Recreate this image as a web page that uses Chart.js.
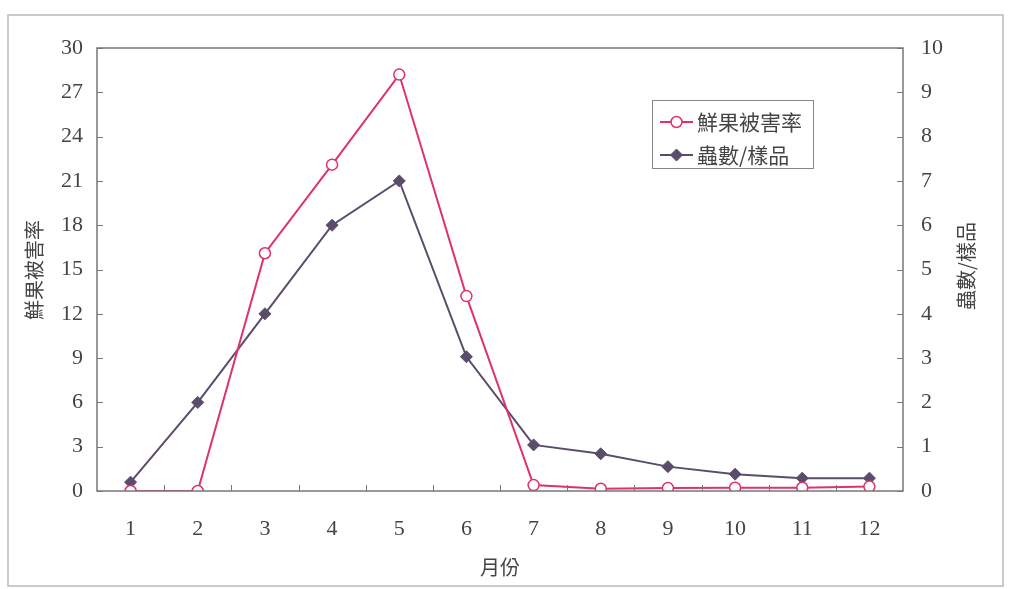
<!DOCTYPE html>
<html>
<head>
<meta charset="utf-8">
<script src="https://cdn.jsdelivr.net/npm/chart.js@4.4.0/dist/chart.umd.min.js"></script>
<style>
  html, body { margin: 0; padding: 0; background: #fff; }
  #wrap { width: 1009px; height: 589px; }
</style>
</head>
<body>
<div id="wrap"><canvas id="myChart" width="1009" height="589"></canvas></div>
<script>
const months = ['1', '2', '3', '4', '5', '6', '7', '8', '9', '10', '11', '12'];
const damageRate = [0, 0, 16.1, 22.1, 28.2, 13.2, 0.4, 0.15, 0.2, 0.22, 0.22, 0.3];
const insectsPerSample = [0.2, 2.0, 4.0, 6.0, 7.0, 3.03, 1.04, 0.84, 0.55, 0.38, 0.29, 0.29];
const leftTicks = [0, 3, 6, 9, 12, 15, 18, 21, 24, 27, 30];
const rightTicks = [0, 1, 2, 3, 4, 5, 6, 7, 8, 9, 10];

const xTitle = '月份';
const leftTitle = '鮮果被害率';
const rightTitle = '蟲數/樣品';

const pink = '#e0306e';
const purple = '#5b4c6b';
const axisColor = '#777';
const textColor = '#444';
const serif = '"Liberation Serif", "DejaVu Serif", serif';
const cjk = '"Noto Sans CJK TC", "Noto Sans CJK SC", sans-serif';

// box, inward ticks, titles and legend
const decor = {
  id: 'decor',
  beforeDraw(chart) {
    const ctx = chart.ctx;
    ctx.save();
    ctx.strokeStyle = '#bbb';
    ctx.lineWidth = 1.5;
    ctx.strokeRect(8, 15, 995, 571);
    ctx.restore();
  },
  afterDraw(chart) {
    const ctx = chart.ctx;
    const a = chart.chartArea;
    const xs = chart.scales.x, yl = chart.scales.y, yr = chart.scales.y1;
    ctx.save();
    ctx.strokeStyle = axisColor;
    ctx.lineWidth = 1.5;
    ctx.strokeRect(a.left, a.top, a.right - a.left, a.bottom - a.top);

    ctx.lineWidth = 1;
    ctx.beginPath();
    leftTicks.forEach(v => {
      const y = Math.round(yl.getPixelForValue(v)) + 0.5;
      ctx.moveTo(a.left, y); ctx.lineTo(a.left + 6, y);
    });
    rightTicks.forEach(v => {
      const y = Math.round(yr.getPixelForValue(v)) + 0.5;
      ctx.moveTo(a.right, y); ctx.lineTo(a.right - 6, y);
    });
    for (let i = 0; i < months.length - 1; i++) {
      const x = Math.round((xs.getPixelForValue(i) + xs.getPixelForValue(i + 1)) / 2) + 0.5;
      ctx.moveTo(x, a.bottom); ctx.lineTo(x, a.bottom - 6);
    }
    ctx.stroke();

    // axis titles
    ctx.fillStyle = textColor;
    ctx.font = '20px ' + cjk;
    ctx.textAlign = 'center';
    ctx.textBaseline = 'middle';
    ctx.fillText(xTitle, (a.left + a.right) / 2, 567);

    ctx.save();
    ctx.translate(34, 270);
    ctx.rotate(-Math.PI / 2);
    ctx.fillText(leftTitle, 0, 0);
    ctx.restore();

    ctx.save();
    ctx.translate(966, 266);
    ctx.rotate(-Math.PI / 2);
    ctx.fillText(rightTitle, 0, 0);
    ctx.restore();

    // legend
    const lx = 652, ly = 100, lw = 161, lh = 68;
    ctx.strokeStyle = '#888';
    ctx.lineWidth = 1;
    ctx.strokeRect(lx + 0.5, ly + 0.5, lw, lh);
    chart.data.datasets.forEach((ds, i) => {
      const cy = ly + 22 + i * 33;
      const px = lx + 24.5;
      ctx.strokeStyle = ds.borderColor;
      ctx.lineWidth = 2;
      ctx.beginPath();
      ctx.moveTo(lx + 8, cy); ctx.lineTo(lx + 41, cy);
      ctx.stroke();
      ctx.fillStyle = ds.pointBackgroundColor;
      ctx.strokeStyle = ds.pointBorderColor;
      ctx.lineWidth = ds.pointBorderWidth;
      ctx.beginPath();
      if (ds.pointStyle === 'circle') {
        ctx.arc(px, cy, ds.pointRadius, 0, Math.PI * 2);
      } else {
        const r = ds.pointRadius;
        ctx.moveTo(px, cy - r); ctx.lineTo(px + r, cy);
        ctx.lineTo(px, cy + r); ctx.lineTo(px - r, cy);
        ctx.closePath();
      }
      ctx.fill();
      ctx.stroke();
      ctx.fillStyle = textColor;
      ctx.font = '21px ' + cjk;
      ctx.textAlign = 'left';
      ctx.fillText(ds.label, lx + 45, cy);
    });
    ctx.restore();
  }
};

new Chart(document.getElementById('myChart'), {
  type: 'line',
  data: {
    labels: months,
    datasets: [
      {
        label: leftTitle,
        data: damageRate,
        yAxisID: 'y',
        borderColor: pink,
        borderWidth: 2,
        pointStyle: 'circle',
        pointRadius: 5.5,
        pointBorderWidth: 1.5,
        pointBackgroundColor: '#fff',
        pointBorderColor: pink,
        tension: 0
      },
      {
        label: rightTitle,
        data: insectsPerSample,
        yAxisID: 'y1',
        borderColor: purple,
        borderWidth: 2,
        pointStyle: 'rectRot',
        pointRadius: 6,
        pointBorderWidth: 1,
        pointBackgroundColor: purple,
        pointBorderColor: purple,
        tension: 0
      }
    ]
  },
  options: {
    responsive: false,
    animation: false,
    layout: { padding: { top: 48, left: 0, right: 0, bottom: 0 } },
    plugins: {
      legend: { display: false },
      tooltip: { enabled: false }
    },
    scales: {
      x: {
        offset: true,
        grid: { display: false, offset: true },
        border: { display: false },
        ticks: { color: textColor, font: { family: serif, size: 22 }, padding: 17, maxRotation: 0 },
        afterFit: (s) => { s.height = 98; }
      },
      y: {
        position: 'left',
        min: 0, max: 30,
        grid: { display: false },
        border: { display: false },
        ticks: { stepSize: 3, color: textColor, font: { family: serif, size: 22 }, padding: 6 },
        afterFit: (s) => { s.width = 97; }
      },
      y1: {
        position: 'right',
        min: 0, max: 10,
        grid: { display: false },
        border: { display: false },
        ticks: { stepSize: 1, color: textColor, font: { family: serif, size: 22 }, padding: 10 },
        afterFit: (s) => { s.width = 106; }
      }
    }
  },
  plugins: [decor]
});
</script>
</body>
</html>
